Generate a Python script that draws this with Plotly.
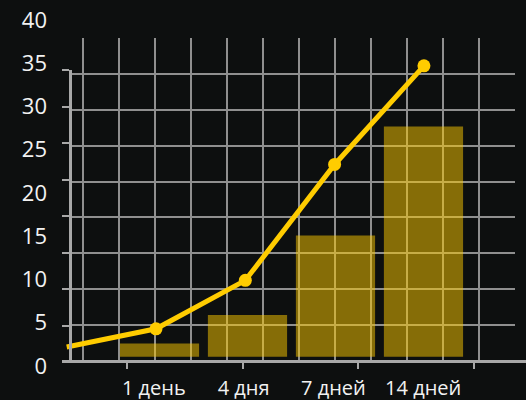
import plotly.graph_objects as go

# ---- data ----
categories = ["1 день", "4 дня", "7 дней", "14 дней"]
bar_values = [2.6, 5.9, 15.1, 27.7]
line_labels = [" "] + categories
line_values = [2.2, 4.3, 9.9, 23.3, 34.7]
y_ticks = [0, 5, 10, 15, 20, 25, 30, 35, 40]

# ---- style ----
W, H = 526, 400
BG = "#0d0f0f"
GOLD = "#ffcc00"
GRID = "#8f8f8f"
AXIS = "#a8a8a8"
TXT = "#f2f2f2"
FONT = "Open Sans"
BAR_BASE = 1.07


def fx(p):
    return p / W


def fy(p):
    return 1 - p / H


fig = go.Figure()

# bars
fig.add_trace(go.Bar(
    x=categories, y=[v - BAR_BASE for v in bar_values], base=BAR_BASE,
    xaxis="x2", yaxis="y2", width=0.9,
    marker=dict(color=GOLD, opacity=0.5, line=dict(width=0)),
    showlegend=False, hoverinfo="skip"))

# line (the leading point carries no marker)
fig.add_trace(go.Scatter(
    x=line_labels, y=line_values, xaxis="x3", yaxis="y2",
    mode="lines+markers", line=dict(color=GOLD, width=5),
    marker=dict(color=GOLD, size=[0] + [13] * len(categories), opacity=1,
                line=dict(width=0)),
    cliponaxis=False, showlegend=False, hoverinfo="skip"))

# dummy traces so the free axes are drawn
fig.add_trace(go.Scatter(x=[None], y=[None], xaxis="x4", yaxis="y2",
                         showlegend=False, hoverinfo="skip"))
fig.add_trace(go.Scatter(x=[None], y=[None], xaxis="x5", yaxis="y3",
                         showlegend=False, hoverinfo="skip"))
fig.add_trace(go.Scatter(x=[None], y=[None], xaxis="x", yaxis="y",
                         showlegend=False, hoverinfo="skip"))

hidden = dict(showline=False, zeroline=False, showgrid=False, ticks="",
              showticklabels=False, fixedrange=True, automargin=False)

fig.update_layout(
    template="none",
    width=W, height=H, autosize=False,
    margin=dict(l=0, r=0, t=0, b=0, pad=0),
    paper_bgcolor=BG, plot_bgcolor="rgba(0,0,0,0)",
    font=dict(family=FONT, color=TXT),
    showlegend=False,
    # grid subplot
    xaxis=dict(hidden, domain=[fx(70), fx(515)], range=[-0.361, 12],
               tickmode="array", tickvals=list(range(12)),
               showgrid=True, gridcolor=GRID, gridwidth=1.5),
    yaxis=dict(hidden, domain=[fy(361), fy(38)], range=[0, 9],
               tickmode="array", tickvals=list(range(1, 9)),
               showgrid=True, gridcolor=GRID, gridwidth=1.5),
    # data: bars (category axis)
    xaxis2=dict(hidden, type="category", categoryarray=categories,
                domain=[0, 1], range=[-1.8125, 4.165], anchor="y2"),
    yaxis2=dict(hidden, domain=[0, 1], range=[-3.931, 42.312],
                anchor="free", position=fx(47), side="left",
                showticklabels=True, tickmode="array", tickvals=y_ticks,
                tickfont=dict(size=22, color=TXT, family=FONT)),
    # line category axis
    xaxis3=dict(hidden, type="category", categoryarray=line_labels,
                range=[-0.747, 5.143], overlaying="x2", anchor="y2"),
    # category labels
    xaxis4=dict(hidden, domain=[0, 1], range=[-1.7127, 4.1448],
                anchor="free", position=fy(374), side="bottom",
                showticklabels=True, tickmode="array", tickvals=[0, 1, 2, 3],
                ticktext=categories,
                tickfont=dict(size=20, color=TXT, family=FONT)),
    # visible x axis line with ticks
    xaxis5=dict(hidden, domain=[fx(62), 1], range=[-0.562, 3.449],
                anchor="free", position=fy(361), side="bottom",
                showline=True, linewidth=3, linecolor=AXIS,
                ticks="outside", ticklen=6, tickwidth=2, tickcolor=AXIS,
                tickmode="array", tickvals=[0, 1, 2, 3]),
    # visible y axis line with ticks
    yaxis3=dict(hidden, domain=[fy(362), fy(70)], range=[0, 40],
                anchor="free", position=fx(69.5), side="left",
                showline=True, linewidth=3, linecolor=AXIS,
                ticks="outside", ticklen=7, tickwidth=2, tickcolor=AXIS,
                tickmode="array", tickvals=y_ticks),
)

fig.write_html("out.html", config={"displayModeBar": False},
               post_script="document.body.style.margin='0';")
